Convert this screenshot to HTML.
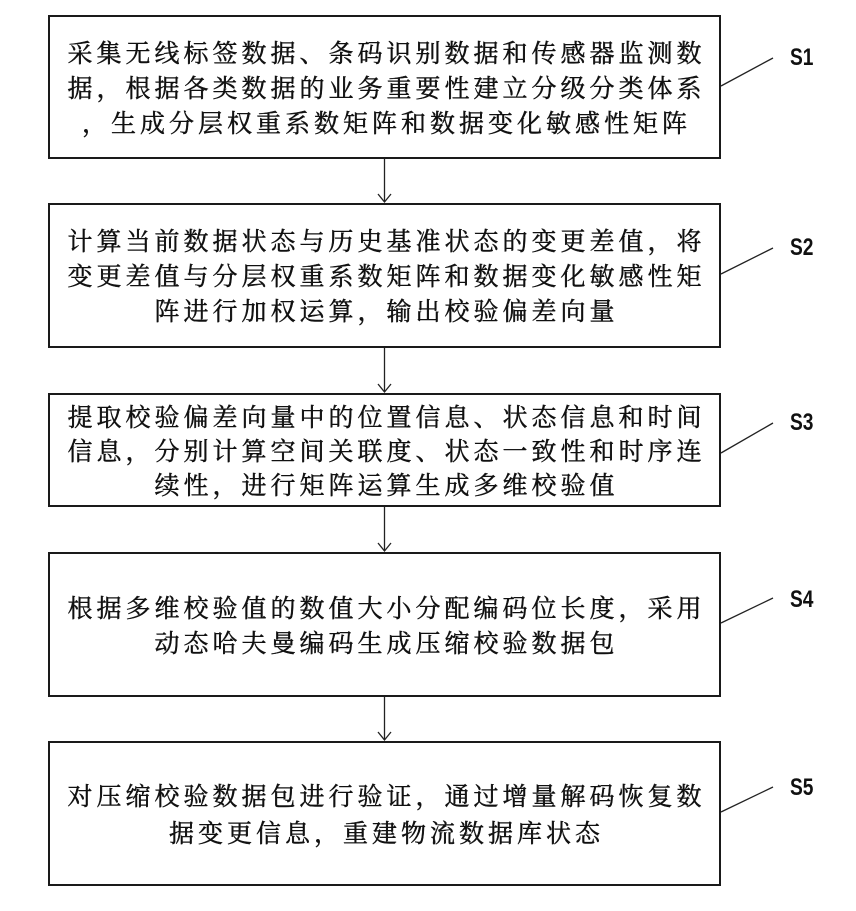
<!DOCTYPE html>
<html>
<head>
<meta charset="utf-8">
<style>
  html,body{margin:0;padding:0;background:#fff;}
  body{width:856px;height:911px;position:relative;overflow:hidden;}
  .box{position:absolute;left:48px;width:669px;border:2px solid #1a1a1a;background:#fff;
       display:flex;flex-direction:column;justify-content:center;align-items:center;
       font-family:"Noto Serif CJK SC","Noto Serif CJK SC Regular","Liberation Serif",serif;font-size:25px;color:#111;
       -webkit-text-stroke:0.45px #111;}
  .ln{white-space:nowrap;line-height:35px;letter-spacing:4px;padding-left:4px;}
  svg{position:absolute;left:0;top:0;}
</style>
</head>
<body>
<div class="box" style="top:15px;height:140px;">
  <div class="ln">采集无线标签数据、条码识别数据和传感器监测数</div>
  <div class="ln">据，根据各类数据的业务重要性建立分级分类体系</div>
  <div class="ln">，生成分层权重系数矩阵和数据变化敏感性矩阵</div>
</div>
<div class="box" style="top:203px;height:141px;">
  <div class="ln">计算当前数据状态与历史基准状态的变更差值，将</div>
  <div class="ln">变更差值与分层权重系数矩阵和数据变化敏感性矩</div>
  <div class="ln">阵进行加权运算，输出校验偏差向量</div>
</div>
<div class="box" style="top:393px;height:110px;">
  <div class="ln" style="line-height:34px">提取校验偏差向量中的位置信息、状态信息和时间</div>
  <div class="ln" style="line-height:34px">信息，分别计算空间关联度、状态一致性和时序连</div>
  <div class="ln" style="line-height:34px">续性，进行矩阵运算生成多维校验值</div>
</div>
<div class="box" style="top:552px;height:141px;">
  <div class="ln">根据多维校验值的数值大小分配编码位长度，采用</div>
  <div class="ln">动态哈夫曼编码生成压缩校验数据包</div>
</div>
<div class="box" style="top:741px;height:141px;">
  <div class="ln" style="line-height:37px">对压缩校验数据包进行验证，通过增量解码恢复数</div>
  <div class="ln" style="line-height:37px">据变更信息，重建物流数据库状态</div>
</div>

<svg width="856" height="911" viewBox="0 0 856 911">
  <g stroke="#222" stroke-width="1.3" fill="none">
    <line x1="384.5" y1="159" x2="384.5" y2="202"/>
    <polyline points="378,194 384.5,202 391,194"/>
    <line x1="384.5" y1="348" x2="384.5" y2="392"/>
    <polyline points="378,384 384.5,392 391,384"/>
    <line x1="384.5" y1="507" x2="384.5" y2="551"/>
    <polyline points="378,543 384.5,551 391,543"/>
    <line x1="384.5" y1="697" x2="384.5" y2="740"/>
    <polyline points="378,732 384.5,740 391,732"/>
    <line x1="721" y1="86" x2="773" y2="58"/>
    <line x1="721" y1="274" x2="773" y2="248"/>
    <line x1="721" y1="453" x2="773" y2="423"/>
    <line x1="721" y1="623" x2="773" y2="598"/>
    <line x1="721" y1="812" x2="773" y2="787"/>
  </g>
  <g font-family="Liberation Sans, Arial, sans-serif" font-weight="bold" font-size="24" fill="#111">
    <text transform="translate(790,65) scale(0.8,1)">S1</text>
    <text transform="translate(790,255) scale(0.8,1)">S2</text>
    <text transform="translate(790,430) scale(0.8,1)">S3</text>
    <text transform="translate(790,607) scale(0.8,1)">S4</text>
    <text transform="translate(790,795) scale(0.8,1)">S5</text>
  </g>
</svg>
</body>
</html>
